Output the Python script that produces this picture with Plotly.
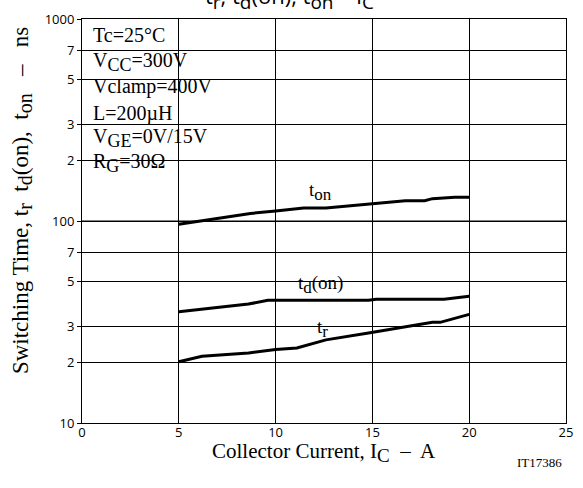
import math
import plotly.graph_objects as go

# ---- data ----
ton_x = [5, 8.7, 10.0, 10.6, 11.45, 12.6, 14.9, 16.7, 17.7, 18.1, 19.25, 20]
ton_y = [96.3, 109, 112, 114, 116, 116, 122, 126, 126, 129, 131, 131]

tdon_x = [5, 8.6, 9.6, 14.8, 15.2, 18.7, 20]
tdon_y = [35.5, 38.8, 40.5, 40.5, 41.0, 41.0, 42.4]

tr_x = [5, 6.2, 8.6, 10.0, 11.1, 12.6, 14.8, 18.1, 18.5, 20]
tr_y = [20.1, 21.4, 22.2, 23.1, 23.5, 25.8, 27.9, 31.5, 31.5, 34.5]

x_ticks = [0, 5, 10, 15, 20, 25]
y_ticks = [10, 20, 30, 50, 70, 100, 200, 300, 500, 700, 1000]
y_ticktext = ["10", "2", "3", "5", "7", "100", "2", "3", "5", "7", "1000"]

W, H = 583, 488
L, R, T, B = 82, 10, 15, 65
PW, PH = W - L - R, H - T - B

def px(xp):
    return (xp - L) / PW

def py(yp):
    return (H - B - yp) / PH

def sub(s, size):
    return "<sub><span style='font-size:%dpx'>%s</span></sub>" % (size, s)

SERIF = "Liberation Serif, Times New Roman, serif"
SANS = "Open Sans, Noto Sans, sans-serif"

cond_lines = ["Tc=25°C", "V" + sub("CC", 18) + "=300V", "Vclamp=400V", "L=200µH",
              "V" + sub("GE", 18) + "=0V/15V", "R" + sub("G", 18) + "=30Ω"]

fig = go.Figure()
for xs, ys in [(ton_x, ton_y), (tdon_x, tdon_y), (tr_x, tr_y)]:
    fig.add_trace(go.Scatter(x=xs, y=ys, mode="lines",
                             line=dict(color="black", width=3),
                             showlegend=False, hoverinfo="skip"))

shapes = [
    # grey 100 gridline
    dict(type="line", xref="paper", yref="paper", x0=0, x1=1, y0=0.5, y1=0.5,
         line=dict(color="#808080", width=2), layer="between"),
    # white condition box
    dict(type="rect", xref="paper", yref="paper", x0=px(82.5), x1=px(228),
         y0=py(178), y1=py(20), fillcolor="white", line=dict(width=0), layer="between"),
    # gaps in grid lines behind curve labels
    dict(type="rect", xref="paper", yref="paper", x0=px(287), x1=px(360),
         y0=py(284), y1=py(279), fillcolor="white", line=dict(width=0), layer="between"),
    dict(type="rect", xref="paper", yref="paper", x0=px(310), x1=px(343),
         y0=py(329), y1=py(324), fillcolor="white", line=dict(width=0), layer="between"),
]

annotations = []
baselines = [39, 64, 91, 118, 141, 166]
for txt, bl in zip(cond_lines, baselines):
    annotations.append(dict(text=txt, xref="paper", yref="paper", x=px(91), y=py(bl - 21),
                            xanchor="left", yanchor="top", showarrow=False,
                            font=dict(family=SERIF, size=20, color="black")))

# curve labels (log axis: annotation y in log10 units)
annotations += [
    dict(text="t" + sub("on", 17), x=12.3, y=math.log10(140), xref="x", yref="y",
         showarrow=False, font=dict(family=SERIF, size=19, color="black")),
    dict(text="t" + sub("d", 17) + "(on)", x=12.3, y=math.log10(48.5), xref="x", yref="y",
         showarrow=False, font=dict(family=SERIF, size=19, color="black")),
    dict(text="t" + sub("r", 17), x=12.4, y=math.log10(29.5), xref="x", yref="y",
         showarrow=False, font=dict(family=SERIF, size=19, color="black")),
]

# title (cut off at top)
annotations.append(dict(text="t" + sub("r", 19) + ", t" + sub("d", 19) + "(on), t" + sub("on", 19)
                        + " – I" + sub("C", 19),
                        xref="paper", yref="paper", x=px(293), y=py(13), xanchor="center",
                        yanchor="bottom", showarrow=False,
                        font=dict(family=SANS, size=22, color="black")))
# axis titles
annotations.append(dict(text="Switching Time, t" + sub("r", 20) + "  t" + sub("d", 20)
                        + "(on),  t" + sub("on", 20) + "   –   ns",
                        xref="paper", yref="paper", x=px(21), y=py(198), textangle=-90,
                        xanchor="center", yanchor="middle", showarrow=False,
                        font=dict(family=SERIF, size=23, color="black")))
annotations.append(dict(text="Collector Current, I" + sub("C", 19) + "  –  A",
                        xref="paper", yref="paper", x=px(327), y=py(468), xanchor="center",
                        yanchor="bottom", showarrow=False,
                        font=dict(family=SERIF, size=21, color="black")))
annotations.append(dict(text="IT17386", xref="paper", yref="paper", x=px(571), y=py(463),
                        xanchor="right", yanchor="middle", showarrow=False,
                        font=dict(family=SERIF, size=13, color="black")))

fig.update_layout(
    width=W, height=H, margin=dict(l=L, r=R, t=T, b=B),
    paper_bgcolor="white", plot_bgcolor="white",
    shapes=shapes, annotations=annotations,
    xaxis=dict(range=[0, 25], tickvals=x_ticks, showgrid=True, gridcolor="black",
               gridwidth=1, zeroline=False, showline=True, linecolor="black",
               linewidth=1, mirror=True, ticks="", ticklabelstandoff=-3,
               tickfont=dict(family=SANS, size=13, color="black")),
    yaxis=dict(type="log", range=[1, 3], tickvals=y_ticks, ticktext=y_ticktext,
               showgrid=True, gridcolor="black", gridwidth=1, zeroline=False,
               showline=True, linecolor="black", linewidth=1, mirror=True,
               ticks="outside", ticklen=4, tickcolor="black",
               tickfont=dict(family=SANS, size=13, color="black")),
)

fig.write_html("out.html")
